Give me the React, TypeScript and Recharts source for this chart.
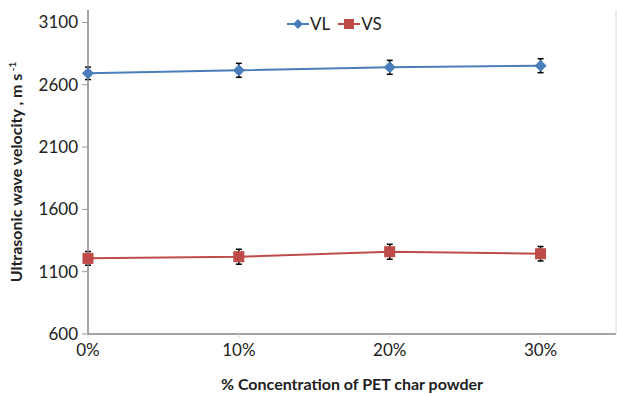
import React from "react";
import {
  LineChart,
  Line,
  XAxis,
  YAxis,
  ErrorBar,
  Label,
} from "recharts";

if (typeof document !== "undefined") document.body.style.margin = "0";

// % PET char powder
const concentrations = [0, 10, 20, 30];
const vlValues = [2692, 2716, 2740, 2753];
const vlErrors = [50, 56, 56, 56];
const vsValues = [1207, 1220, 1260, 1244];
const vsErrors = [55, 60, 60, 58];
const yTicks = [600, 1100, 1600, 2100, 2600, 3100];
const xTicks = [0, 10, 20, 30];

const data = concentrations.map((c, i) => ({
  conc: c,
  VL: vlValues[i],
  vlErr: vlErrors[i],
  VS: vsValues[i],
  vsErr: vsErrors[i],
}));

const BLUE = "#4a7ebb";
const RED = "#be4b48";
const FONT = "Lato, 'Open Sans', sans-serif";

const Diamond = (props: any) => {
  const { cx, cy } = props;
  if (cx == null || cy == null) return null;
  const r = 5.5;
  return (
    <path
      d={`M${cx},${cy - r}L${cx + r},${cy}L${cx},${cy + r}L${cx - r},${cy}Z`}
      fill={BLUE}
      stroke={BLUE}
    />
  );
};

const Square = (props: any) => {
  const { cx, cy } = props;
  if (cx == null || cy == null) return null;
  const r = 5;
  return <rect x={cx - r} y={cy - r} width={r * 2} height={r * 2} fill={RED} stroke={RED} />;
};

const LegendBox = () => (
  <div
    style={{
      position: "absolute",
      left: 287,
      top: 13,
      display: "flex",
      alignItems: "center",
      fontFamily: FONT,
      fontSize: 17,
      color: "#222",
    }}
  >
    <svg width={22} height={12}>
      <line x1={0} y1={6} x2={22} y2={6} stroke={BLUE} strokeWidth={2} />
      <path d="M11,1L16,6L11,11L6,6Z" fill={BLUE} />
    </svg>
    <span style={{ marginLeft: 1, marginRight: 8 }}>VL</span>
    <svg width={22} height={12}>
      <line x1={0} y1={6} x2={22} y2={6} stroke={RED} strokeWidth={2} />
      <rect x={6} y={1} width={10} height={10} fill={RED} />
    </svg>
    <span style={{ marginLeft: 1 }}>VS</span>
  </div>
);

const YTitle = (props: any) => {
  const vb = props.viewBox || {};
  const cy = vb.y + vb.height / 2;
  const x = 22;
  return (
    <text
      x={x}
      y={cy}
      transform={`rotate(-90 ${x} ${cy})`}
      textAnchor="middle"
      fontFamily={FONT}
      fontWeight="bold"
      fontSize={16}
      fill="#222"
    >
      Ultrasonic wave velocity , m s
      <tspan dy={-6} fontSize={10}> -1</tspan>
    </text>
  );
};

export default function App() {
  return (
    <div style={{ position: "relative", width: 617, height: 394 }}>
      <LineChart
        width={617}
        height={394}
        data={data}
        margin={{ top: 10, right: 0, bottom: 0, left: 0 }}
      >
        <XAxis
          dataKey="conc"
          type="number"
          domain={[0, 35]}
          ticks={xTicks}
          tickFormatter={(v: number) => `${v}%`}
          tick={{ fontFamily: FONT, fontSize: 17, fill: "#222" }}
          axisLine={{ stroke: "#868686", strokeWidth: 1.5 }}
          tickLine={{ stroke: "#d0d0d0" }}
          tickSize={4}
          tickMargin={6}
          height={60}
        >
          <Label
            value="% Concentration of PET char powder"
            position="insideBottom"
            offset={4}
            style={{ fontFamily: FONT, fontWeight: "bold", fontSize: 16, fill: "#222" }}
          />
        </XAxis>
        <XAxis
          xAxisId="top"
          dataKey="conc"
          type="number"
          domain={[0, 35]}
          orientation="top"
          tick={false}
          tickLine={false}
          axisLine={{ stroke: "#868686", strokeWidth: 1.5 }}
          height={0}
        />
        <YAxis
          type="number"
          domain={[600, 3200]}
          ticks={yTicks}
          interval={0}
          tick={{ fontFamily: FONT, fontSize: 17, fill: "#222" }}
          axisLine={{ stroke: "#868686", strokeWidth: 1.5 }}
          tickLine={{ stroke: "#9a9a9a" }}
          tickSize={6}
          tickMargin={4}
          width={88}
        >
          <Label content={<YTitle />} />
        </YAxis>
        <YAxis
          yAxisId="right"
          orientation="right"
          domain={[600, 3200]}
          tick={false}
          tickLine={false}
          axisLine={{ stroke: "#d9d9d9", strokeWidth: 1 }}
          width={1}
        />
        <Line
          dataKey="VL"
          stroke={BLUE}
          strokeWidth={2}
          dot={<Diamond />}
          activeDot={false}
          isAnimationActive={false}
        >
          <ErrorBar dataKey="vlErr" direction="y" width={3} stroke="#000" strokeWidth={1.5} />
        </Line>
        <Line
          dataKey="VS"
          stroke={RED}
          strokeWidth={2}
          dot={<Square />}
          activeDot={false}
          isAnimationActive={false}
        >
          <ErrorBar dataKey="vsErr" direction="y" width={3} stroke="#000" strokeWidth={1.5} />
        </Line>
      </LineChart>
      <LegendBox />
    </div>
  );
}
